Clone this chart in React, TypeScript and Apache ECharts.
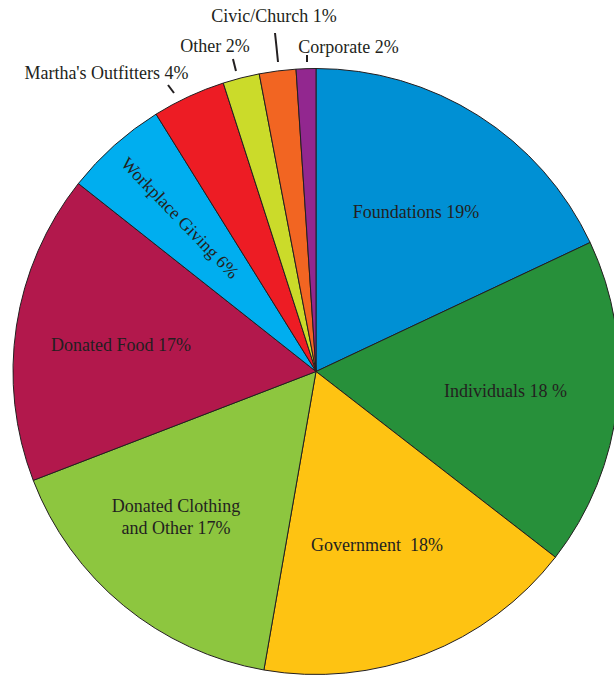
import React, { useEffect, useRef } from "react";
import * as echarts from "echarts";

// Slices, clockwise from 12 o'clock (in %)
const categories = [
  "Foundations",
  "Individuals",
  "Government",
  "Donated Clothing and Other",
  "Donated Food",
  "Workplace Giving",
  "Martha's Outfitters",
  "Other",
  "Civic/Church",
  "Corporate",
];
const values = [18.0, 17.5, 17.25, 16.4, 16.5, 5.5, 3.9, 1.95, 1.95, 1.05];
const labelTexts = [
  "Foundations 19%",
  "Individuals 18 %",
  "Government\u00a0\u00a018%",
  "Donated Clothing\nand Other 17%",
  "Donated Food 17%",
  "Workplace Giving 6%",
  "Martha's Outfitters 4%",
  "Other 2%",
  "Civic/Church 1%",
  "Corporate 2%",
];
const colors = [
  "#0090d4",
  "#27903a",
  "#fec312",
  "#8dc63f",
  "#b2184c",
  "#00aeef",
  "#ed1c24",
  "#cbdb2a",
  "#f26522",
  "#92278f",
];

// Label placement (layout, not data)
const labelPos: number[][] = [
  [416, 212],
  [505.5, 391],
  [377, 545],
  [176, 517],
  [121, 345],
  [180, 218],
  [106.5, 73],
  [215, 46],
  [274, 16],
  [348.5, 47],
];
const labelRotate = [0, 0, 0, 0, 0, -46, 0, 0, 0, 0];
const tickLines: (number[][] | null)[] = [
  null,
  null,
  null,
  null,
  null,
  null,
  [[168, 85], [171, 89], [174, 93]],
  [[233, 59], [234.5, 65], [236, 71]],
  [[275, 33], [276.5, 47], [278, 62]],
  [[307, 55], [307, 58.5], [307, 62]],
];

export default function App() {
  const ref = useRef<HTMLDivElement>(null);
  useEffect(() => {
    if (!ref.current) return;
    const chart = echarts.init(ref.current, undefined, { renderer: "svg" });
    const data = categories.map((name, i) => ({
      name,
      value: values[i],
      itemStyle: { color: colors[i] },
      label: {
        position: tickLines[i] ? "outside" : "inside",
      },
      labelLine: {
        show: !!tickLines[i],
      },
    }));
    chart.setOption({
      animation: false,
      series: [
        {
          type: "pie",
          center: [316, 371.5],
          radius: 303,
          startAngle: 90,
          clockwise: true,
          avoidLabelOverlap: false,
          data,
          itemStyle: { borderColor: "#231f20", borderWidth: 1 },
          label: {
            show: true,
            formatter: (p: any) => labelTexts[p.dataIndex],
            fontFamily: "Liberation Serif",
            fontSize: 18,
            color: "#231f20",
            lineHeight: 22,
            align: "center",
          },
          labelLine: {
            show: false,
            lineStyle: { color: "#231f20", width: 2 },
          },
          labelLayout: (p: any) => {
            const i = p.dataIndex;
            const out: any = {
              x: labelPos[i][0],
              y: labelPos[i][1],
              align: "center",
              verticalAlign: "middle",
              rotate: labelRotate[i],
            };
            if (tickLines[i]) out.labelLinePoints = tickLines[i];
            return out;
          },
          emphasis: { disabled: true },
        },
      ],
    });
    return () => chart.dispose();
  }, []);
  return (
    <div
      ref={ref}
      style={{ position: "absolute", left: 0, top: 0, width: 614, height: 675 }}
    />
  );
}
